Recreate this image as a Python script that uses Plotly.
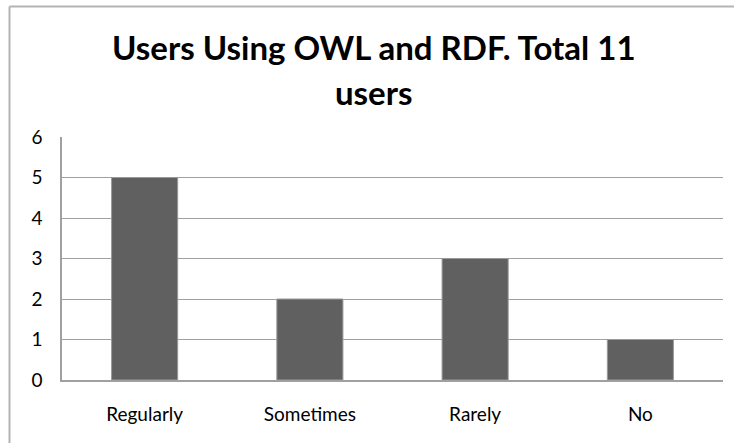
import plotly.graph_objects as go

categories = ["Regularly", "Sometimes", "Rarely", "No"]
users = [5, 2, 3, 1]
y_ticks = [0, 1, 2, 3, 4, 5, 6]

W, H = 734, 443
L, R, T, B = 62, 11, 137, 63
pw, ph = W - L - R, H - T - B


def px_x(x):
    return (x - L) / pw


def px_y(y):
    return (H - B - y) / ph


fig = go.Figure(
    go.Bar(
        x=categories,
        y=users,
        width=0.4,
        marker=dict(color="#606060", line=dict(color="#9a9a9a", width=1)),
    )
)

font = "Lato, sans-serif"

fig.update_layout(
    width=W,
    height=H,
    margin=dict(l=L, r=R, t=T, b=B),
    paper_bgcolor="white",
    plot_bgcolor="white",
    showlegend=False,
    font=dict(family=font, color="#000000", size=19),
    xaxis=dict(
        showgrid=False,
        showline=True,
        linecolor="#a0a0a0",
        linewidth=1.5,
        ticks="",
        ticklabelstandoff=16,
        tickfont=dict(size=19),
    ),
    yaxis=dict(
        range=[0, 6],
        tickvals=y_ticks,
        showgrid=True,
        gridcolor="#a0a0a0",
        gridwidth=1.2,
        showline=True,
        linecolor="#a0a0a0",
        linewidth=1.5,
        zeroline=False,
        ticks="",
        ticklabelstandoff=14,
        tickfont=dict(size=19),
    ),
    annotations=[
        dict(text="<b>Users Using OWL and RDF. Total 11</b>", x=px_x(374), y=px_y(47),
             xref="paper", yref="paper", showarrow=False, xanchor="center", yanchor="middle",
             font=dict(size=33, family=font)),
        dict(text="<b>users</b>", x=px_x(374), y=px_y(92),
             xref="paper", yref="paper", showarrow=False, xanchor="center", yanchor="middle",
             font=dict(size=33, family=font)),
    ],
    shapes=[
        dict(type="line", xref="paper", yref="paper", x0=px_x(9.5), x1=px_x(740),
             y0=px_y(6.5), y1=px_y(6.5), line=dict(color="#b4b4b4", width=2)),
        dict(type="line", xref="paper", yref="paper", x0=px_x(9.5), x1=px_x(9.5),
             y0=px_y(6.5), y1=px_y(450), line=dict(color="#b4b4b4", width=2)),
    ],
)

fig.write_html("out.html")
